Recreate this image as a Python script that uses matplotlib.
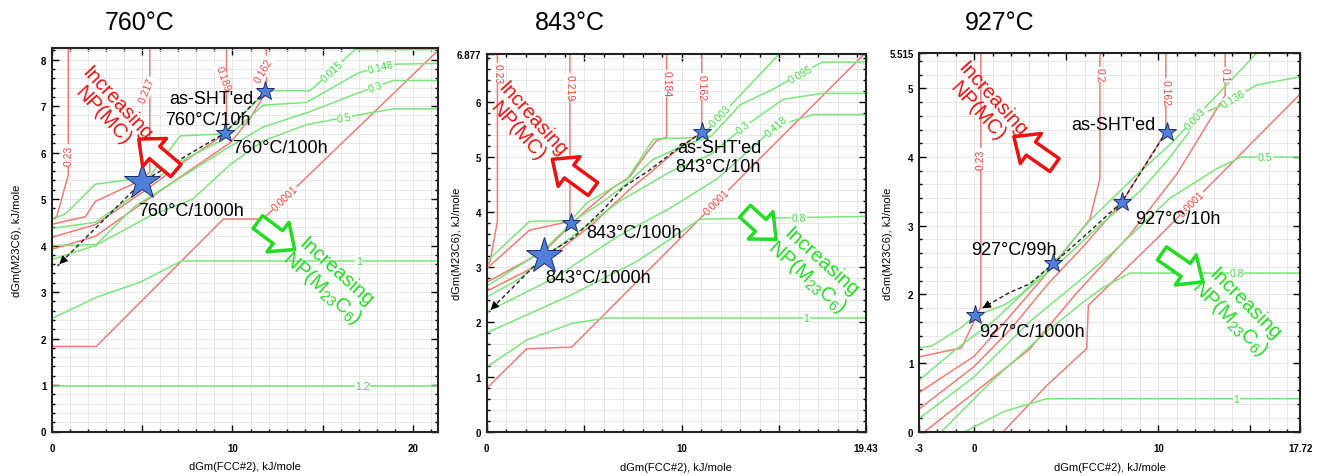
import numpy as np
import matplotlib.pyplot as plt
from matplotlib.patches import FancyArrowPatch

plt.rcParams['font.family'] = ['Liberation Sans', 'DejaVu Sans']

# ---------------- 760C panel ----------------
p1_red_023 = [(0.9, 8.25), (0.9, 5.52), (0.26, 4.62), (0, 4.58)]
p1_red_0217 = [(5.42, 8.25), (5.42, 5.58), (4.9, 5.4), (2.4, 4.95), (1.85, 4.62), (0, 4.46)]
p1_red_0189 = [(9.67, 8.25), (9.67, 6.48), (9.2, 6.3), (7.1, 5.75), (5.4, 5.25), (2.4, 4.45), (0, 4.18)]
p1_red_0162 = [(11.88, 8.25), (11.88, 7.32), (11.0, 6.75), (9.9, 6.22), (7.2, 5.5), (4.6, 4.8),
               (2.4, 4.2), (0, 3.92)]
p1_red_00001 = [(0, 1.83), (2.45, 1.83), (9.5, 4.57), (11.7, 4.57), (21.4, 8.2)]

p1_green_0015 = [(0, 4.57), (0.74, 4.68), (2.4, 5.32), (4.52, 5.43), (5.36, 5.47), (7.1, 6.36),
                 (9.5, 6.4), (11.9, 7.33), (14.3, 7.33), (16.8, 8.22), (21.4, 8.22)]
p1_green_0148 = [(0, 4.37), (2.4, 4.5), (4.25, 5.0), (7.0, 5.79), (9.6, 6.3), (11.7, 7.02),
                 (14.1, 7.08), (17.0, 7.72), (18.9, 7.9), (21.4, 7.92)]
p1_green_03 = [(0, 4.0), (2.45, 4.02), (4.6, 4.85), (7.0, 5.43), (9.6, 6.07), (11.7, 6.55),
               (14.3, 6.88), (16.8, 7.26), (18.9, 7.55), (21.4, 7.55)]
p1_green_05 = [(0, 3.7), (2.4, 4.0), (5.5, 4.65), (7.8, 5.0), (9.9, 5.75), (11.7, 6.25),
               (14.1, 6.6), (17.25, 6.83), (18.9, 6.94), (21.4, 6.94)]
p1_green_1 = [(0, 2.43), (2.47, 2.89), (4.87, 3.21), (7.18, 3.67), (21.4, 3.67)]
p1_green_12 = [(0, 0.97), (21.4, 0.97)]

p1_path = [(11.8, 7.32), (9.58, 6.42), (4.99, 5.37), (0.3, 3.56)]
p1_star_x = [11.8, 9.58, 4.99]
p1_star_y = [7.32, 6.42, 5.37]
p1_notes = ["as-SHT'ed", "760°C/10h", "760°C/100h", "760°C/1000h"]

# ---------------- 843C panel ----------------
p2_red_023 = [(0.55, 6.877), (0.55, 3.83), (0.17, 3.1), (0, 3.02)]
p2_red_0219 = [(4.27, 6.877), (4.27, 3.83), (2.2, 3.67), (0, 2.97)]
p2_red_0184 = [(9.23, 6.877), (9.23, 5.36), (8.7, 5.3), (8.2, 5.07), (7.34, 4.64), (6.5, 4.45),
               (5.0, 4.0), (3.0, 3.3), (0, 2.72)]
p2_red_0162 = [(11.03, 6.877), (11.03, 5.45), (10.0, 5.2), (8.5, 4.75), (7.3, 4.4), (5.5, 3.8),
               (3.0, 3.1), (0, 2.56)]
p2_red_00001 = [(0, 0.79), (2.05, 1.51), (4.36, 1.54), (19.43, 6.9)]

p2_green_0003 = [(0, 3.1), (2.2, 3.83), (4.3, 3.84), (5.14, 4.17), (6.5, 4.45), (7.17, 4.58),
                 (8.56, 5.33), (10.96, 5.36), (15.0, 6.877)]
p2_green_0095 = [(0, 2.65), (2.9, 3.3), (4.5, 3.85), (6.0, 4.2), (7.3, 4.55), (8.5, 4.95),
                 (10.0, 5.2), (11.5, 5.38), (13.0, 5.95), (14.7, 6.24), (17.2, 6.73), (19.43, 6.73)]
p2_green_03 = [(0, 2.45), (1.7, 2.79), (3.42, 3.3), (6.84, 4.2), (9.5, 4.75), (11.5, 5.05),
               (13.16, 5.54), (15.2, 6.05), (17.2, 6.16), (19.43, 6.16)]
p2_green_0418 = [(0, 2.18), (3.42, 2.79), (6.84, 3.58), (9.4, 4.07), (11.8, 4.6), (14.87, 5.57),
                 (16.7, 5.77), (19.43, 5.77)]
p2_green_08 = [(0, 1.8), (4.27, 2.48), (7.7, 3.1), (10.94, 3.87), (19.43, 3.92)]
p2_green_1 = [(0, 1.18), (2.05, 1.67), (4.36, 1.97), (6.15, 2.07), (19.43, 2.07)]

p2_path = [(11.03, 5.45), (9.6, 5.1), (8.3, 4.75), (7.0, 4.45), (6.0, 4.05), (4.44, 3.53),
           (2.95, 3.2), (0.2, 2.22)]
p2_star_x = [11.03, 4.32, 2.95]
p2_star_y = [5.45, 3.80, 3.20]
p2_notes = ["as-SHT'ed", "843°C/10h", "843°C/100h", "843°C/1000h"]

# ---------------- 927C panel ----------------
p3_red_023 = [(0.36, 5.515), (0.36, 1.82), (-0.69, 1.22), (-3, 1.09)]
p3_red_02 = [(6.83, 5.515), (6.83, 3.69), (6.29, 3.1), (4.3, 2.42), (2.0, 1.7), (0, 1.1), (-3, 0.57)]
p3_red_0162 = [(10.41, 5.515), (10.41, 4.37), (8.04, 3.35), (6.0, 2.72), (4.0, 2.15), (2.0, 1.5),
               (0, 0.95), (-3, 0.33)]
p3_red_01 = [(13.63, 5.515), (13.63, 4.9), (11.0, 3.75), (8.4, 2.85), (5.5, 2.0), (3.0, 1.2), (-2.7, 0)]
p3_red_00001 = [(1.58, 0), (3.93, 0.67), (6.11, 1.21), (6.2, 1.84), (9.91, 2.81), (17.72, 4.92)]

p3_green_0003 = [(-3, 1.22), (-2.3, 1.25), (-0.69, 1.52), (0, 1.68), (1.58, 1.84), (2.49, 1.99),
                 (4.3, 2.45), (6.29, 3.08), (8.82, 3.74), (10.63, 4.18), (15.35, 5.515)]
p3_green_0136 = [(-3, 0.75), (-1, 1.2), (1.0, 1.6), (3.0, 2.1), (5.0, 2.55), (7.0, 3.05), (9.0, 3.5),
                 (10.5, 3.95), (12.44, 4.64), (13.53, 4.76), (15.35, 5.05), (17.72, 5.17)]
p3_green_05 = [(-3, 0.19), (0, 0.8), (3, 1.6), (5.5, 2.15), (7.56, 2.62), (10.63, 3.4), (13.17, 3.83),
               (14.5, 4.0), (17.72, 4.0)]
p3_green_08 = [(-1.78, 0), (1.0, 0.75), (3.9, 1.45), (5.93, 1.89), (7.0, 2.1), (8.46, 2.31), (17.72, 2.31)]
p3_green_1 = [(-0.5, 0), (1.58, 0.29), (3.93, 0.48), (17.72, 0.48)]

p3_path = [(10.45, 4.37), (8.04, 3.35), (6.2, 2.9), (4.3, 2.45), (3.0, 2.15), (1.94, 2.03), (0.45, 1.8)]
p3_star_x = [10.45, 8.04, 4.3, 0.04]
p3_star_y = [4.37, 3.35, 2.45, 1.70]
p3_notes = ["as-SHT'ed", "927°C/10h", "927°C/99h", "927°C/1000h"]

# ---------------- styles ----------------
RED = '#f47a75'
GREEN = '#7ae67a'
RED_LBL = '#f2403c'
GREEN_LBL = '#3fdc3f'
RED_TXT = '#ee1111'
GREEN_TXT = '#22dd22'
STAR_FC = '#4f7fd8'
STAR_EC = '#1c2f6a'
W, H = 1322, 477
M236 = 'NP(M$_{\\mathregular{23}}$C$_{\\mathregular{6}}$)'


def rect_px(l, r, t, b):
    return [l / W, 1 - b / H, (r - l) / W, (b - t) / H]


def point_on(pts, x=None, y=None):
    if x is not None and y is not None:
        return x, y, None
    for i in range(len(pts) - 1):
        (x0, y0), (x1, y1) = pts[i], pts[i + 1]
        if x is not None and x0 != x1 and min(x0, x1) <= x <= max(x0, x1):
            t = (x - x0) / (x1 - x0)
            return x, y0 + t * (y1 - y0), i
        if y is not None and y0 != y1 and min(y0, y1) <= y <= max(y0, y1):
            t = (y - y0) / (y1 - y0)
            return x0 + t * (x1 - x0), y, i
    return pts[0][0], pts[0][1], 0


def draw_line(ax, pts, color):
    ax.plot([p[0] for p in pts], [p[1] for p in pts], color=color, lw=1.1, zorder=2)


def line_label(ax, pts, text, color, x=None, y=None, rot=None):
    px, py, i = point_on(pts, x, y)
    if rot is None:
        a = ax.transData.transform(pts[i])
        b = ax.transData.transform(pts[i + 1])
        rot = np.degrees(np.arctan2(b[1] - a[1], b[0] - a[0]))
        if rot > 90:
            rot -= 180
        if rot < -90:
            rot += 180
    ax.text(px, py, text, color=color, fontsize=7.5, rotation=rot, rotation_mode='anchor',
            ha='center', va='center', zorder=3,
            bbox=dict(fc='white', ec='none', pad=0.4))


def hollow_arrow(ax, tail, tip, color):
    # stretch the tail a little so the shaft shows behind the head
    tail = (tip[0] + 1.18 * (tail[0] - tip[0]), tip[1] + 1.18 * (tail[1] - tip[1]))
    ar = FancyArrowPatch(tail, tip, arrowstyle='simple,head_length=0.65,head_width=1.15,tail_width=0.5',
                         mutation_scale=23, fc='white', ec=color, lw=2.5, zorder=6)
    ax.add_patch(ar)


def setup_axes(ax, xlim, ylim, xticks, xticklabels, yticks, yticklabels, xminor, ylab_x, xlab_y):
    ax.set_xlim(*xlim)
    ax.set_ylim(*ylim)
    ax.set_xticks(xticks)
    ax.set_xticklabels(xticklabels, fontweight='bold')
    ax.set_yticks(yticks)
    ax.set_yticklabels(yticklabels, fontweight='bold')
    ax.set_xticks(xminor, minor=True)
    ax.set_yticks(np.arange(0, ylim[1], 0.2), minor=True)
    ax.grid(which='both', color='#e3e3e3', lw=0.6)
    ax.set_axisbelow(True)
    ax.tick_params(which='both', direction='in', top=True, right=True, labelsize=7, width=1)
    ax.tick_params(which='major', length=5)
    ax.tick_params(which='minor', length=2.5)
    ax.tick_params(axis='x', pad=8)
    ax.tick_params(axis='y', pad=4)
    for s in ax.spines.values():
        s.set_linewidth(1.5)
        s.set_color('#222222')
    ax.set_ylabel('dGm(M23C6), kJ/mole', fontsize=8)
    ax.set_xlabel('dGm(FCC#2), kJ/mole', fontsize=8)
    ax.yaxis.set_label_coords(ylab_x, 0.5)
    ax.xaxis.set_label_coords(0.5, xlab_y)


def draw_path(ax, path, sx, sy, sizes):
    ax.plot([p[0] for p in path], [p[1] for p in path], color='#222222', lw=1.0,
            dashes=(3, 2), zorder=4)
    end, prev = np.array(path[-1]), np.array(path[-2])
    ax.annotate('', xy=end, xytext=end + 0.06 * (prev - end),
                arrowprops=dict(arrowstyle='-|>', color='black', lw=0.8, mutation_scale=12),
                zorder=4)
    for x, y, s in zip(sx, sy, sizes):
        ax.plot(x, y, marker='*', ms=s, mfc=STAR_FC, mec=STAR_EC, mew=0.7, ls='none', zorder=5)


fig = plt.figure(figsize=(13.22, 4.77), dpi=100)

# ---- panel 1 ----
ax1 = fig.add_axes(rect_px(52, 438, 49, 432.5))
setup_axes(ax1, (0, 21.39), (0, 8.25), [0, 5, 10, 15, 20], ['0', '', '10', '', '20'],
           range(9), [str(v) for v in range(9)], np.arange(0, 21.4, 1), -0.078, -0.078)
for pts in [p1_red_023, p1_red_0217, p1_red_0189, p1_red_0162, p1_red_00001]:
    draw_line(ax1, pts, RED)
for pts in [p1_green_0015, p1_green_0148, p1_green_03, p1_green_05, p1_green_1, p1_green_12]:
    draw_line(ax1, pts, GREEN)
line_label(ax1, p1_red_023, '0.23', RED_LBL, 0.9, 5.95, 90)
line_label(ax1, p1_red_0217, '0.217', RED_LBL, 5.25, 7.35, 68)
line_label(ax1, p1_red_0189, '0.189', RED_LBL, 9.45, 7.6, -70)
line_label(ax1, p1_red_0162, '0.162', RED_LBL, 11.75, 7.78, 60)
line_label(ax1, p1_red_00001, '0.0001', RED_LBL, x=12.9)
line_label(ax1, p1_green_0015, '0.015', GREEN_LBL, x=15.5)
line_label(ax1, p1_green_0148, '0.148', GREEN_LBL, x=18.2)
line_label(ax1, p1_green_03, '0.3', GREEN_LBL, x=17.9)
line_label(ax1, p1_green_05, '0.5', GREEN_LBL, x=16.2)
line_label(ax1, p1_green_1, '1', GREEN_LBL, x=17.0)
line_label(ax1, p1_green_12, '1.2', GREEN_LBL, x=17.2)
draw_path(ax1, p1_path, p1_star_x, p1_star_y, [14, 14, 27])
for txt, (x, y) in zip(p1_notes, [(8.84, 7.17), (8.64, 6.72), (12.63, 6.11), (7.73, 4.75)]):
    ax1.text(x, y, txt, fontsize=13, ha='center', va='center', zorder=7)
hollow_arrow(ax1, (6.63, 5.69), (4.69, 6.33), RED_TXT)
ax1.text(3.2, 6.94, 'Increasing\nNP(MC)', color=RED_TXT, fontsize=14.5, rotation=-47,
         rotation_mode='anchor', ha='center', va='center', multialignment='center',
         linespacing=1.0, zorder=7)
hollow_arrow(ax1, (11.63, 4.44), (13.57, 3.88), GREEN_TXT)
ax1.text(15.3, 3.26, 'Increasing\n' + M236, color=GREEN_TXT, fontsize=14.5, rotation=-42,
         rotation_mode='anchor', ha='center', va='center', multialignment='center',
         linespacing=1.0, zorder=7)

# ---- panel 2 ----
ax2 = fig.add_axes(rect_px(486.7, 865.5, 55, 432.7))
setup_axes(ax2, (0, 19.43), (0, 6.877), [0, 5, 10, 15, 19.43], ['0', '', '10', '', '19.43'],
           [0, 1, 2, 3, 4, 5, 6, 6.877], ['0', '1', '2', '3', '4', '5', '6', '6.877'],
           np.arange(0, 19.5, 1), -0.065, -0.079)
for pts in [p2_red_023, p2_red_0219, p2_red_0184, p2_red_0162, p2_red_00001]:
    draw_line(ax2, pts, RED)
for pts in [p2_green_0003, p2_green_0095, p2_green_03, p2_green_0418, p2_green_08, p2_green_1]:
    draw_line(ax2, pts, GREEN)
line_label(ax2, p2_red_023, '0.23', RED_LBL, 0.55, 6.52, -90)
line_label(ax2, p2_red_0219, '0.219', RED_LBL, 4.27, 6.28, -90)
line_label(ax2, p2_red_0184, '0.184', RED_LBL, 9.23, 6.34, -90)
line_label(ax2, p2_red_0162, '0.162', RED_LBL, 11.03, 6.28, -90)
line_label(ax2, p2_red_00001, '0.0001', RED_LBL, x=11.8)
line_label(ax2, p2_green_0003, '0.003', GREEN_LBL, x=12.0)
line_label(ax2, p2_green_0095, '0.095', GREEN_LBL, x=16.1)
line_label(ax2, p2_green_03, '0.3', GREEN_LBL, x=13.16)
line_label(ax2, p2_green_0418, '0.418', GREEN_LBL, x=14.87)
line_label(ax2, p2_green_08, '0.8', GREEN_LBL, x=16.0)
line_label(ax2, p2_green_1, '1', GREEN_LBL, x=16.4)
draw_path(ax2, p2_path, p2_star_x, p2_star_y, [14, 14, 27])
for txt, (x, y) in zip(p2_notes, [(11.94, 5.17), (11.84, 4.82), (7.57, 3.62), (5.73, 2.81)]):
    ax2.text(x, y, txt, fontsize=13, ha='center', va='center', zorder=7)
hollow_arrow(ax2, (5.21, 4.48), (3.25, 4.99), RED_TXT)
ax2.text(1.97, 5.6, 'Increasing\nNP(MC)', color=RED_TXT, fontsize=14.5, rotation=-48,
         rotation_mode='anchor', ha='center', va='center', multialignment='center',
         linespacing=1.0, zorder=7)
hollow_arrow(ax2, (13.42, 3.96), (14.95, 3.47), GREEN_TXT)
ax2.text(16.75, 2.95, 'Increasing\n' + M236, color=GREEN_TXT, fontsize=14.5, rotation=-42,
         rotation_mode='anchor', ha='center', va='center', multialignment='center',
         linespacing=1.0, zorder=7)

# ---- panel 3 ----
ax3 = fig.add_axes(rect_px(919, 1300.4, 54, 432.7))
setup_axes(ax3, (-3, 17.72), (0, 5.515), [-3, 0, 5, 10, 15, 17.72],
           ['-3', '0', '', '10', '', '17.72'],
           [0, 1, 2, 3, 4, 5, 5.515], ['0', '1', '2', '3', '4', '5', '5.515'],
           np.arange(-3, 17.8, 1), -0.068, -0.079)
for pts in [p3_red_023, p3_red_02, p3_red_0162, p3_red_01, p3_red_00001]:
    draw_line(ax3, pts, RED)
for pts in [p3_green_0003, p3_green_0136, p3_green_05, p3_green_08, p3_green_1]:
    draw_line(ax3, pts, GREEN)
line_label(ax3, p3_red_023, '0.23', RED_LBL, 0.36, 3.98, 90)
line_label(ax3, p3_red_02, '0.2', RED_LBL, 6.83, 5.2, -90)
line_label(ax3, p3_red_0162, '0.162', RED_LBL, 10.41, 4.95, -90)
line_label(ax3, p3_red_01, '0.1', RED_LBL, 13.63, 5.2, -90)
line_label(ax3, p3_red_00001, '0.0001', RED_LBL, x=11.8)
line_label(ax3, p3_green_0003, '0.003', GREEN_LBL, x=12.0)
line_label(ax3, p3_green_0136, '0.136', GREEN_LBL, x=14.1)
line_label(ax3, p3_green_05, '0.5', GREEN_LBL, x=15.8)
line_label(ax3, p3_green_08, '0.8', GREEN_LBL, x=14.26)
line_label(ax3, p3_green_1, '1', GREEN_LBL, x=14.25)
draw_path(ax3, p3_path, p3_star_x, p3_star_y, [14, 14, 14, 14])
for txt, (x, y) in zip(p3_notes, [(7.55, 4.47), (11.04, 3.1), (2.16, 2.66), (3.16, 1.46)]):
    ax3.text(x, y, txt, fontsize=13, ha='center', va='center', zorder=7)
hollow_arrow(ax3, (4.11, 3.93), (2.03, 4.32), RED_TXT)
ax3.text(0.58, 4.77, 'Increasing\nNP(MC)', color=RED_TXT, fontsize=14.5, rotation=-48,
         rotation_mode='anchor', ha='center', va='center', multialignment='center',
         linespacing=1.0, zorder=7)
hollow_arrow(ax3, (10.45, 2.55), (12.54, 2.16), GREEN_TXT)
ax3.text(14.28, 1.76, 'Increasing\n' + M236, color=GREEN_TXT, fontsize=14.5, rotation=-45,
         rotation_mode='anchor', ha='center', va='center', multialignment='center',
         linespacing=1.0, zorder=7)

# titles
for title, cx in [('760°C', 140), ('843°C', 570), ('927°C', 1000)]:
    fig.text(cx / W, 1 - 23 / H, title, fontsize=18, ha='center', va='center')

fig.savefig('out.png', dpi=100)
